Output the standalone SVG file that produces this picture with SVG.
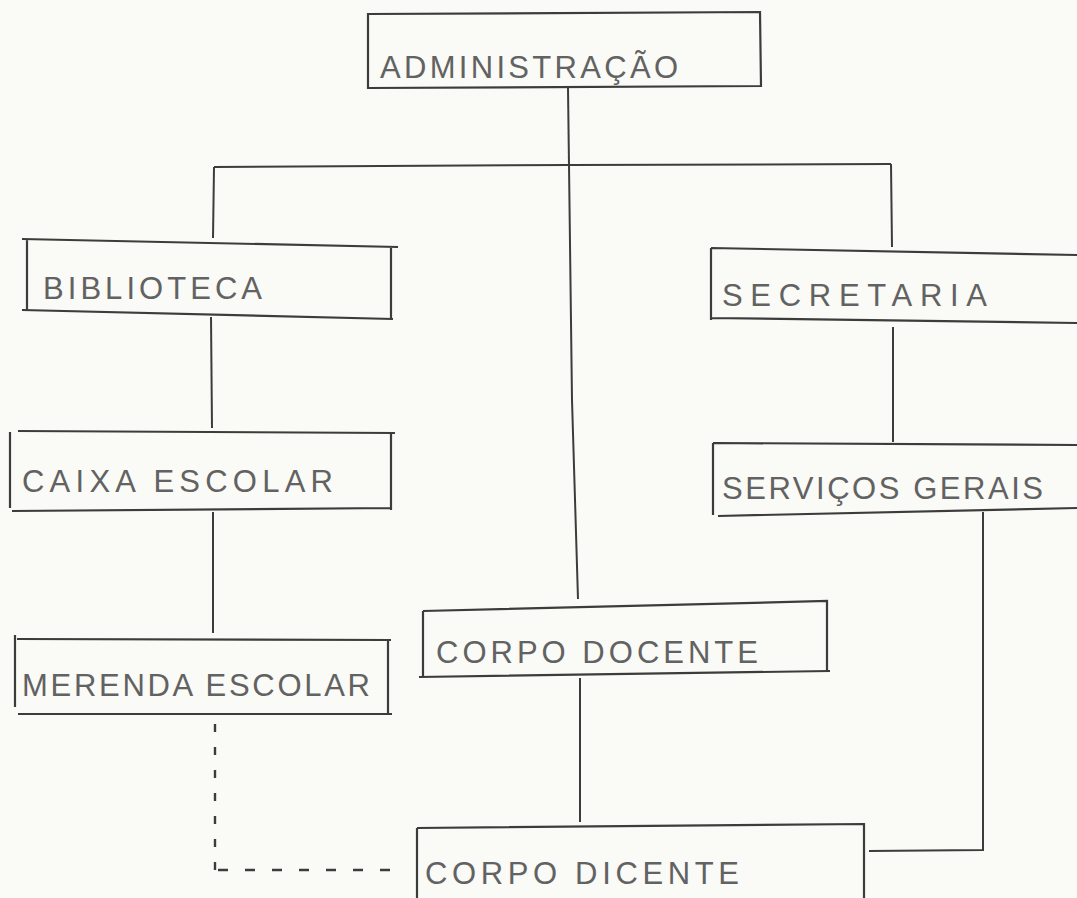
<svg xmlns="http://www.w3.org/2000/svg" width="1077" height="898" viewBox="0 0 1077 898">
<style>
.bg{fill:#fafaf6}
.box{fill:none;stroke:#3c3c3c;stroke-width:2.2;stroke-linejoin:miter}
.ln{fill:none;stroke:#3c3c3c;stroke-width:2}
.dash{fill:none;stroke:#3c3c3c;stroke-width:2.4}
.t{font-family:"Liberation Sans",Arial,sans-serif;fill:#626262;font-size:31px}
</style>
<rect class="bg" x="0" y="0" width="1077" height="898"/>
<g id="connectors">
<path class="ln" d="M568,88 L569,166"/>
<path class="ln" d="M214,167 L569,165 L891,164"/>
<path class="ln" d="M214,167 L213,238"/>
<path class="ln" d="M891,164 L892,247"/>
<path class="ln" d="M569,165 L572,400 L578,599"/>
<path class="ln" d="M211,317 L212,428"/>
<path class="ln" d="M213,512 L213,633"/>
<path class="ln" d="M893,327 L893,442"/>
<path class="ln" d="M580,678 L580,822"/>
<path class="ln" d="M983,512 L983,850 L869,851"/>
<path class="dash" d="M215,724 L215,873" stroke-dasharray="8,15"/>
<path class="dash" d="M218,870 L402,870" stroke-dasharray="10,17"/>
</g>
<g id="administracao">
<path class="box" d="M368,14 L760,12 L761,86 L368,88 Z"/>
<text class="t" x="380" y="78" font-size="36" textLength="298" lengthAdjust="spacing">ADMINISTRAÇÃO</text>
</g>
<g id="biblioteca">
<path class="box" d="M22,239 L398,247 M27,240 L27,310 M22,310 L393,319 M391,247 L391,319"/>
<text class="t" x="43" y="299" font-size="33" textLength="219" lengthAdjust="spacing">BIBLIOTECA</text>
</g>
<g id="caixa-escolar">
<path class="box" d="M18,431 L395,433 M10,432 L10,508 M12,511 L392,508 M391,433 L391,510"/>
<text class="t" x="22" y="492" font-size="30" textLength="311" lengthAdjust="spacing">CAIXA ESCOLAR</text>
</g>
<g id="merenda-escolar">
<path class="box" d="M15,635 L15,707 M17,639 L391,640 M388,640 L388,713 M18,714 L392,714"/>
<text class="t" x="22" y="696" font-size="31" textLength="348" lengthAdjust="spacing">MERENDA ESCOLAR</text>
</g>
<g id="secretaria">
<path class="box" d="M711,248 L711,320 M711,248 L1077,255 M711,318 L1077,323"/>
<text class="t" x="722" y="306" font-size="30" textLength="265" lengthAdjust="spacing">SECRETARIA</text>
</g>
<g id="servicos-gerais">
<path class="box" d="M713,443 L713,515 M713,443 L1077,445 M718,516 L1077,508"/>
<text class="t" x="722" y="499" font-size="32" textLength="321" lengthAdjust="spacing">SERVIÇOS GERAIS</text>
</g>
<g id="corpo-docente">
<path class="box" d="M423,611 L827,601 L827,671 M423,611 L423,677 M419,677 L830,671"/>
<text class="t" x="436" y="663" font-size="28" textLength="322" lengthAdjust="spacing">CORPO DOCENTE</text>
</g>
<g id="corpo-dicente">
<path class="box" d="M417,828 L417,898 M417,828 L864,824 L864,898"/>
<text class="t" x="425" y="884" font-size="29" textLength="314" lengthAdjust="spacing">CORPO DICENTE</text>
</g>
</svg>
